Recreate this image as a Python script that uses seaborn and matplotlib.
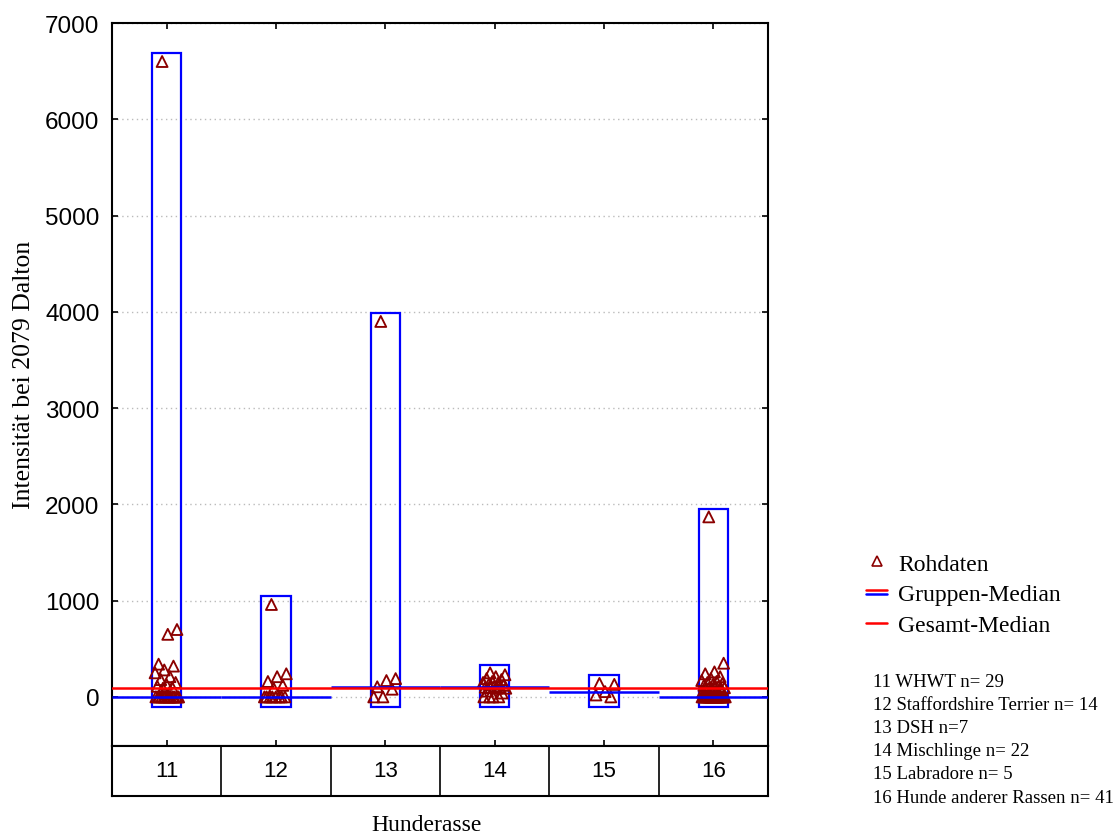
import numpy as np
import pandas as pd
import matplotlib
matplotlib.use("Agg")
import matplotlib.pyplot as plt
from matplotlib.patches import Rectangle
from matplotlib.lines import Line2D
from matplotlib.legend_handler import HandlerBase
from matplotlib.font_manager import FontProperties
import seaborn as sns

# ---- data: peak intensity at 2079 Da per dog, grouped by breed code ----
group_codes = [11, 12, 13, 14, 15, 16]
group_names = ["WHWT", "Staffordshire Terrier", "DSH", "Mischlinge",
               "Labradore", "Hunde anderer Rassen"]
n_sep = [" ", " ", "", " ", " ", " "]

intens_11 = [6600, 700, 650, 340, 320, 280, 250, 210, 180, 150, 130, 110, 100, 90,
             0, 0, 0, 0, 0, 0, 0, 0, 0, 0, 0, 0, 0, 0, 0]
intens_12 = [960, 240, 210, 160, 120, 90,
             0, 0, 0, 0, 0, 0, 0, 0]
intens_13 = [3900, 190, 170, 105, 80, 0, 0]
intens_14 = [250, 230, 210, 190, 180, 160, 150, 140, 130, 120, 110, 100, 100, 95,
             90, 90, 60, 40, 0, 0, 0, 0]
intens_15 = [140, 130, 55, 20, 0]
intens_16 = [1870, 350, 260, 240, 210, 190, 170, 160, 150, 140, 130, 120, 110, 100,
             95, 90, 90, 90, 70, 50,
             0, 0, 0, 0, 0, 0, 0, 0, 0, 0, 0, 0, 0, 0, 0, 0, 0, 0, 0, 0, 0]
intensities = [intens_11, intens_12, intens_13, intens_14, intens_15, intens_16]

y_ticks = [0, 1000, 2000, 3000, 4000, 5000, 6000, 7000]

# ---- styling ----
BLUE = "#0000FF"
RED = "#FF0000"
DARKRED = "#8B0000"
SERIF = "Liberation Serif"

sns.set_theme(style="white")
plt.rcParams["font.family"] = ["Liberation Sans", "DejaVu Sans"]
plt.rcParams.update({"text.color": "black", "axes.labelcolor": "black",
                     "xtick.color": "black", "ytick.color": "black"})

# long-form table with a small deterministic horizontal spread per point
rows = []
for code, vals in zip(group_codes, intensities):
    for i, v in enumerate(vals):
        spread = ((i * 0.618034 + 0.31) % 1.0 - 0.5) * 0.22
        rows.append({"code": code, "xpos": code + spread, "intensity": v})
df = pd.DataFrame(rows)

W, H = 1117, 837
fig = plt.figure(figsize=(W / 100, H / 100), dpi=100)
ax = fig.add_axes([112 / W, 1 - 747 / H, (768 - 112) / W, (747 - 24) / H])
strip = fig.add_axes([112 / W, 1 - 797 / H, (768 - 112) / W, 50 / H])

# value range boxes per group
for code, vals in zip(group_codes, intensities):
    lo, hi = min(vals) - 100, max(vals) + 85
    ax.add_patch(Rectangle((code - 0.135, lo), 0.27, hi - lo, fill=False,
                           edgecolor=BLUE, lw=1.6, zorder=2))

# raw data
sns.scatterplot(data=df, x="xpos", y="intensity", marker="^", s=62,
                facecolor="none", edgecolor=DARKRED, linewidth=1.35,
                ax=ax, legend=False, zorder=3)

# group medians and overall median
for code, vals in zip(group_codes, intensities):
    ax.hlines(np.median(vals), code - 0.5, code + 0.5, color=BLUE, lw=1.8, zorder=4)
overall = np.median(np.concatenate(intensities))
ax.axhline(overall, color=RED, lw=1.8, zorder=5)

ax.set_xlim(10.5, 16.5)
ax.set_ylim(-510, 7000)
ax.set_yticks(y_ticks)
ax.set_yticklabels([str(t) for t in y_ticks], fontsize=17.5)
ax.set_xticks(group_codes)
ax.set_xticklabels([])
ax.tick_params(axis="both", direction="in", length=4, width=1.2, color="black",
               left=True, right=True, top=True, bottom=True, pad=9)
ax.yaxis.grid(True, linestyle=(0, (1, 2.5)), color="#BBBBBB", lw=1)
ax.xaxis.grid(False)
ax.set_xlabel("")
ax.set_ylabel("Intensität bei 2079 Dalton", family=SERIF, fontsize=18.5)
ax.yaxis.set_label_coords(-0.118, 0.515)
for sp in ax.spines.values():
    sp.set_color("black")
    sp.set_linewidth(1.5)

# category strip under the plot
strip.set_xlim(10.5, 16.5)
strip.set_ylim(0, 1)
strip.set_xticks([])
strip.set_yticks([])
for b in range(len(group_codes) - 1):
    strip.axvline(group_codes[b] + 0.5, color="black", lw=1.2)
for code in group_codes:
    strip.text(code, 0.5, str(code), ha="center", va="center", fontsize=16)
for sp in strip.spines.values():
    sp.set_color("black")
    sp.set_linewidth(1.5)
fig.text(427 / W, 1 - 826 / H, "Hunderasse", family=SERIF, fontsize=17,
         ha="center", va="center")


class GroupMedianKey:
    pass


class StackedLines(HandlerBase):
    def create_artists(self, legend, orig_handle, xdescent, ydescent,
                       width, height, fontsize, trans):
        y = height / 2 - ydescent
        arts = []
        for dy, c in ((1.6, RED), (-1.6, BLUE)):
            ln = Line2D([-xdescent, width - xdescent], [y + dy, y + dy], color=c, lw=1.8)
            ln.set_transform(trans)
            arts.append(ln)
        return arts


handles = [
    Line2D([], [], marker="^", ls="none", mfc="none", mec=DARKRED, ms=7, mew=1.2),
    GroupMedianKey(),
    Line2D([], [], color=RED, lw=1.8),
]
labels = ["Rohdaten", "Gruppen-Median", "Gesamt-Median"]
fig.legend(handles, labels, handler_map={GroupMedianKey: StackedLines()},
           loc="upper left", bbox_to_anchor=(866 / W, 1 - 554 / H),
           frameon=False, prop=FontProperties(family=SERIF, size=17),
           handlelength=0.9, handletextpad=0.45, labelspacing=0.4,
           borderaxespad=0, borderpad=0)

notes = [f"{c} {name} n={sep}{len(v)}"
         for c, name, sep, v in zip(group_codes, group_names, n_sep, intensities)]
fig.text(873 / W, 1 - 674 / H, "\n".join(notes), family=SERIF, fontsize=13.5,
         va="top", ha="left", linespacing=1.47)

fig.savefig("out.png", dpi=100)
